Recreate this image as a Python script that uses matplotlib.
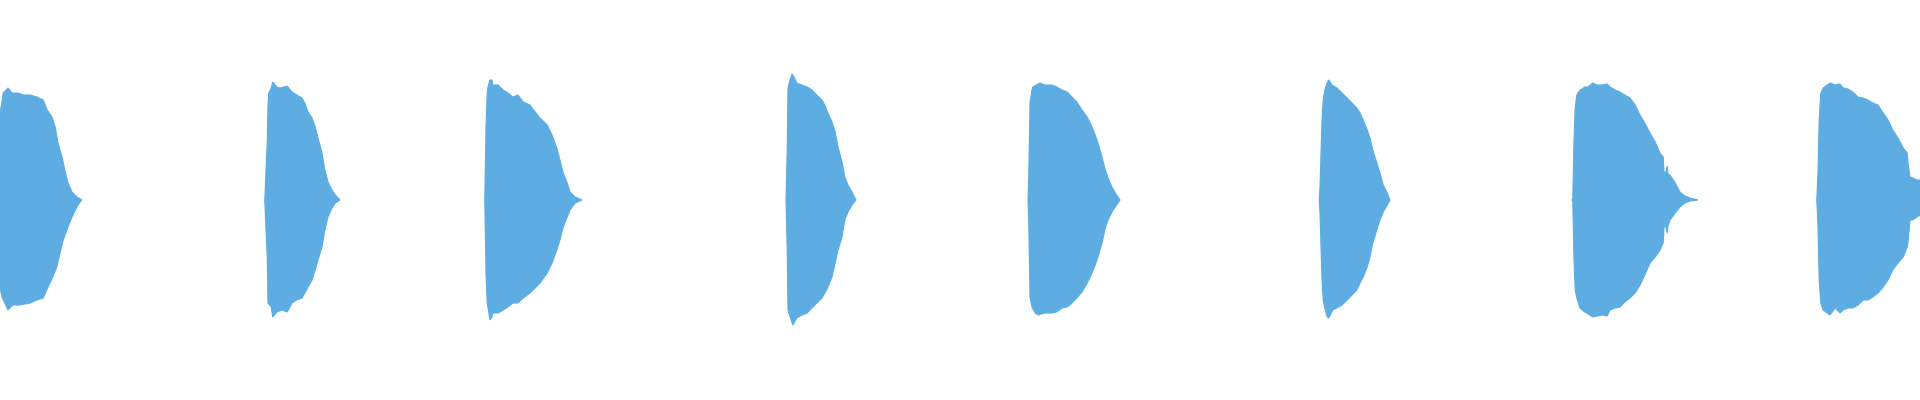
import numpy as np
import matplotlib
matplotlib.use("Agg")
import matplotlib.pyplot as plt

# waveform envelope: (time in ms, amplitude), upper and lower edge per burst
b1_top = [(0, .435), (5, .49), (8, .535), (20, .56), (30, .535), (45, .535), (58, .525), (75, .525),
          (92, .515), (108, .50), (118, .45), (130, .415), (138, .365), (145, .285), (155, .215),
          (162, .15), (170, .085), (180, .04), (192, .015), (205, 0)]
b1_bot = [(0, -.435), (5, -.485), (20, -.55), (32, -.525), (50, -.525), (75, -.515), (92, -.50),
          (108, -.49), (120, -.435), (132, -.385), (142, -.335), (150, -.265), (158, -.20),
          (170, -.135), (180, -.085), (192, -.035), (200, -.01), (205, 0)]

b2_top = [(662, 0), (668, .29), (670, .475), (672, .535), (678, .56), (682, .59), (692, .565),
          (700, .56), (718, .57), (730, .54), (742, .525), (755, .51), (762, .485), (770, .44),
          (780, .41), (788, .365), (795, .31), (805, .235), (812, .15), (820, .09), (830, .05),
          (838, .025), (850, 0)]
b2_bot = [(662, -.005), (668, -.285), (670, -.515), (678, -.535), (682, -.585), (692, -.56),
          (705, -.55), (718, -.56), (730, -.515), (742, -.50), (755, -.49), (762, -.465),
          (770, -.435), (780, -.40), (788, -.35), (795, -.30), (805, -.235), (812, -.15),
          (820, -.085), (830, -.04), (838, -.015), (850, 0)]

b3_top = [(1212, 0), (1215, .365), (1218, .535), (1220, .565), (1225, .60), (1230, .60), (1232, .575),
          (1245, .575), (1258, .55), (1270, .535), (1282, .515), (1295, .525), (1308, .49),
          (1325, .475), (1338, .44), (1350, .41), (1368, .375), (1380, .325), (1392, .26),
          (1400, .20), (1408, .135), (1418, .085), (1425, .04), (1438, .015), (1455, 0)]
b3_bot = [(1212, 0), (1215, -.365), (1218, -.515), (1225, -.60), (1230, -.585), (1232, -.565),
          (1245, -.565), (1258, -.55), (1270, -.535), (1282, -.515), (1295, -.515), (1308, -.49),
          (1325, -.465), (1338, -.44), (1350, -.415), (1368, -.365), (1380, -.315), (1392, -.25),
          (1400, -.20), (1408, -.135), (1418, -.085), (1425, -.05), (1438, -.015), (1455, 0)]

b4_top = [(1965, 0), (1968, .25), (1970, .56), (1975, .60), (1980, .63), (1985, .615), (1992, .585),
          (2005, .575), (2018, .565), (2030, .55), (2042, .525), (2055, .50), (2062, .475),
          (2070, .435), (2080, .39), (2088, .34), (2095, .265), (2105, .19), (2112, .115),
          (2120, .075), (2130, .04), (2140, 0)]
b4_bot = [(1965, 0), (1968, -.25), (1970, -.55), (1978, -.60), (1982, -.625), (1992, -.59),
          (2005, -.575), (2018, -.565), (2030, -.54), (2042, -.515), (2055, -.49), (2062, -.465),
          (2070, -.435), (2080, -.385), (2088, -.315), (2095, -.25), (2105, -.185), (2112, -.10),
          (2120, -.06), (2130, -.025), (2140, 0)]

b5_top = [(2570, 0), (2572, .135), (2575, .485), (2580, .55), (2582, .565), (2595, .58), (2600, .585),
          (2612, .575), (2630, .575), (2642, .565), (2655, .55), (2668, .54), (2680, .515),
          (2692, .49), (2705, .45), (2718, .415), (2730, .365), (2738, .325), (2745, .285),
          (2755, .215), (2762, .16), (2770, .11), (2780, .065), (2788, .035), (2800, 0)]
b5_bot = [(2570, 0), (2572, -.125), (2575, -.485), (2580, -.535), (2588, -.565), (2595, -.575),
          (2612, -.565), (2630, -.565), (2642, -.56), (2655, -.54), (2668, -.535), (2680, -.515),
          (2692, -.49), (2705, -.46), (2718, -.415), (2730, -.365), (2738, -.325), (2745, -.285),
          (2755, -.215), (2762, -.15), (2770, -.10), (2780, -.06), (2788, -.035), (2800, 0)]

b6_top = [(3298, 0), (3300, .065), (3305, .40), (3308, .50), (3312, .55), (3318, .585), (3322, .60),
          (3330, .575), (3342, .56), (3355, .535), (3368, .51), (3380, .485), (3392, .46),
          (3400, .435), (3408, .40), (3418, .35), (3425, .31), (3432, .25), (3442, .185),
          (3450, .135), (3458, .075), (3468, .035), (3475, 0)]
b6_bot = [(3298, 0), (3300, -.065), (3305, -.40), (3308, -.50), (3312, -.54), (3318, -.585),
          (3322, -.59), (3332, -.55), (3342, -.54), (3355, -.525), (3368, -.50), (3380, -.475),
          (3392, -.45), (3400, -.415), (3408, -.385), (3418, -.335), (3425, -.285), (3432, -.215),
          (3442, -.15), (3450, -.10), (3458, -.06), (3468, -.025), (3475, 0)]

b7_top = [(3930, 0), (3932, .01), (3935, .30), (3938, .46), (3942, .525), (3945, .535), (3950, .55),
          (3955, .555), (3962, .565), (3970, .565), (3982, .585), (3992, .575), (4005, .575),
          (4018, .58), (4025, .565), (4038, .55), (4050, .54), (4062, .525), (4075, .51),
          (4088, .475), (4100, .425), (4112, .385), (4125, .335), (4138, .29), (4150, .235),
          (4158, .215), (4160, .14), (4165, .14), (4168, .17), (4170, .13), (4175, .125),
          (4188, .085), (4200, .04), (4212, .02), (4225, .01), (4245, 0)]
b7_bot = [(3930, 0), (3932, -.01), (3935, -.30), (3938, -.45), (3942, -.49), (3950, -.54),
          (3962, -.56), (3982, -.585), (4005, -.575), (4018, -.58), (4025, -.55), (4038, -.54),
          (4050, -.535), (4062, -.51), (4075, -.49), (4088, -.465), (4100, -.425), (4112, -.375),
          (4125, -.315), (4138, -.285), (4150, -.25), (4158, -.215), (4160, -.135), (4165, -.135),
          (4168, -.165), (4170, -.13), (4175, -.10), (4188, -.065), (4200, -.035), (4212, -.015),
          (4225, -.005), (4245, 0)]

b8_top = [(4542, 0), (4545, .14), (4548, .40), (4552, .535), (4558, .56), (4568, .575), (4575, .585),
          (4588, .575), (4600, .58), (4608, .56), (4620, .555), (4632, .54), (4645, .515),
          (4658, .51), (4670, .50), (4682, .485), (4695, .475), (4708, .435), (4720, .40),
          (4732, .35), (4745, .31), (4758, .26), (4768, .235), (4770, .185), (4775, .115),
          (4782, .11), (4792, .10), (4800, .10)]
b8_bot = [(4542, 0), (4545, -.135), (4548, -.40), (4552, -.515), (4558, -.55), (4568, -.565),
          (4575, -.575), (4588, -.54), (4600, -.565), (4608, -.55), (4620, -.54), (4632, -.54),
          (4645, -.525), (4658, -.50), (4670, -.50), (4682, -.485), (4695, -.465), (4708, -.435),
          (4720, -.40), (4732, -.35), (4745, -.315), (4758, -.285), (4768, -.235), (4770, -.21),
          (4775, -.10), (4782, -.10), (4792, -.085), (4800, -.075)]

bursts = [(b1_top, b1_bot), (b2_top, b2_bot), (b3_top, b3_bot), (b4_top, b4_bot),
          (b5_top, b5_bot), (b6_top, b6_bot), (b7_top, b7_bot), (b8_top, b8_bot)]

wave_color = "#5dade2"

fig = plt.figure(figsize=(19.2, 4), dpi=100)
ax = fig.add_axes([0, 0, 1, 1])

for top, bot in bursts:
    top = np.array(top)
    bot = np.array(bot)
    # outline: upper edge left->right, then lower edge back right->left
    xs = np.concatenate([top[:, 0], bot[::-1, 0]])
    ys = np.concatenate([top[:, 1], bot[::-1, 1]])
    ax.fill(xs, ys, color=wave_color, linewidth=0.8, edgecolor=wave_color)

ax.set_xlim(0, 4800)
ax.set_ylim(-1, 1)
ax.axis("off")

fig.savefig("out.png", dpi=100, facecolor="white")
